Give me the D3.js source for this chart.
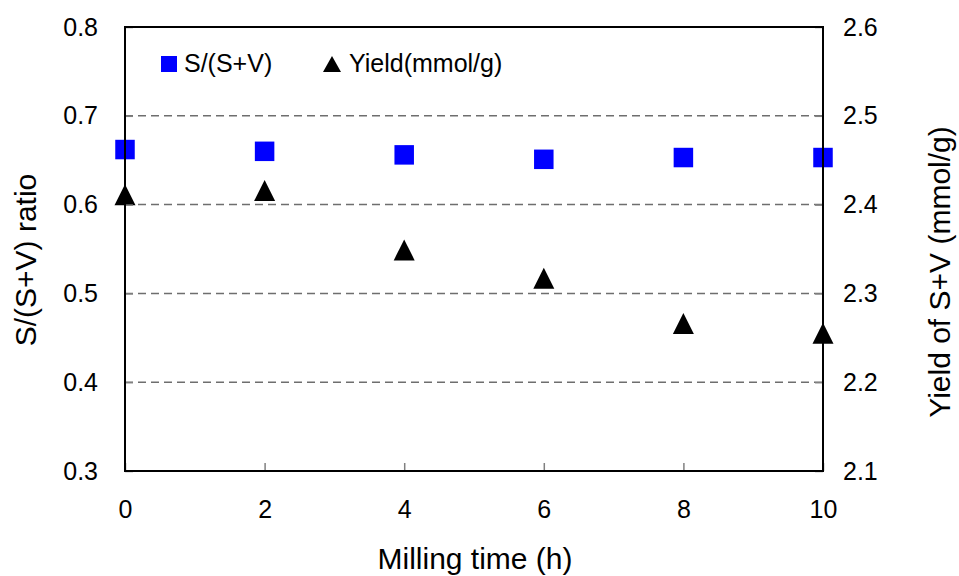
<!DOCTYPE html>
<html>
<head>
<meta charset="utf-8">
<script src="https://cdn.jsdelivr.net/npm/d3@7"></script>
<style>
  body { margin: 0; background: #fff; }
  svg { font-family: "Liberation Sans", Arial, sans-serif; }
</style>
</head>
<body>
<svg id="chart" width="959" height="576"></svg>
<script>
// data
var millingTime = [0, 2, 4, 6, 8, 10];
var ratioValues = [0.662, 0.660, 0.656, 0.651, 0.653, 0.653];
var yieldValues = [2.411, 2.416, 2.349, 2.317, 2.266, 2.255];
var xTicks = [0, 2, 4, 6, 8, 10];
var leftTicks = [0.3, 0.4, 0.5, 0.6, 0.7, 0.8];
var rightTicks = [2.1, 2.2, 2.3, 2.4, 2.5, 2.6];
var seriesNames = ["S/(S+V)", "Yield(mmol/g)"];

var svg = d3.select("#chart"),
    margin = {top: 27, right: 136, bottom: 105, left: 125},
    width = +svg.attr("width") - margin.left - margin.right,
    height = +svg.attr("height") - margin.top - margin.bottom;

var x = d3.scaleLinear().domain([0, 10]).range([margin.left, margin.left + width]);
var yL = d3.scaleLinear().domain([0.3, 0.8]).range([margin.top + height, margin.top]);
var yR = d3.scaleLinear().domain([2.1, 2.6]).range([margin.top + height, margin.top]);

// dashed grid
svg.append("g")
    .selectAll("line")
    .data([0.4, 0.5, 0.6, 0.7])
    .enter().append("line")
    .attr("x1", x(0)).attr("x2", x(10))
    .attr("y1", function(d) { return yL(d); })
    .attr("y2", function(d) { return yL(d); })
    .attr("stroke", "#6e6e6e")
    .attr("stroke-width", 1.5)
    .attr("stroke-dasharray", "8,5");

// markers
var sq = 19.5, tw = 21, th = 21;
svg.append("g")
    .selectAll("rect")
    .data(millingTime)
    .enter().append("rect")
    .attr("x", function(d) { return x(d) - sq / 2; })
    .attr("y", function(d, i) { return yL(ratioValues[i]) - sq / 2; })
    .attr("width", sq).attr("height", sq)
    .attr("fill", "#0000ff");

function tri(cx, cy, w, h) {
    return "M" + cx + "," + (cy - h / 2) + "L" + (cx + w / 2) + "," + (cy + h / 2) +
        "L" + (cx - w / 2) + "," + (cy + h / 2) + "Z";
}
svg.append("g")
    .selectAll("path")
    .data(millingTime)
    .enter().append("path")
    .attr("d", function(d, i) { return tri(x(d), yR(yieldValues[i]), tw, th); })
    .attr("fill", "#000");

// axes
var gx = svg.append("g")
    .attr("transform", "translate(0," + (margin.top + height) + ")")
    .call(d3.axisBottom(x).tickValues(xTicks).tickSizeInner(-8).tickSizeOuter(0).tickPadding(29));
var gl = svg.append("g")
    .attr("transform", "translate(" + margin.left + ",0)")
    .call(d3.axisLeft(yL).tickValues(leftTicks).tickFormat(d3.format(".1f")).tickSizeInner(-8).tickSizeOuter(0).tickPadding(27));
var gr = svg.append("g")
    .attr("transform", "translate(" + (margin.left + width) + ",0)")
    .call(d3.axisRight(yR).tickValues(rightTicks).tickFormat(d3.format(".1f")).tickSizeInner(-8).tickSizeOuter(0).tickPadding(20));

[gx, gl, gr].forEach(function(g) {
    g.select(".domain").remove();
    g.selectAll(".tick line").attr("stroke", "#808080").attr("stroke-width", 1.5);
    g.selectAll(".tick text").attr("font-size", 25).attr("fill", "#000")
        .attr("font-family", "Liberation Sans, Arial, sans-serif");
});

// frame
svg.append("rect")
    .attr("x", margin.left).attr("y", margin.top)
    .attr("width", width).attr("height", height)
    .attr("fill", "none")
    .attr("stroke", "#000")
    .attr("stroke-width", 2);

// titles
svg.append("text")
    .attr("x", 475).attr("y", 569)
    .attr("text-anchor", "middle")
    .attr("font-size", 30)
    .text("Milling time (h)");

svg.append("text")
    .attr("transform", "translate(36,260) rotate(-90)")
    .attr("text-anchor", "middle")
    .attr("font-size", 30)
    .text("S/(S+V) ratio");

svg.append("text")
    .attr("transform", "translate(950,272) rotate(-90)")
    .attr("text-anchor", "middle")
    .attr("font-size", 30)
    .text("Yield of S+V (mmol/g)");

// legend
var lg = svg.append("g");
lg.append("rect")
    .attr("x", 161).attr("y", 56).attr("width", 16).attr("height", 16)
    .attr("fill", "#0000ff");
lg.append("text")
    .attr("x", 184).attr("y", 72)
    .attr("font-size", 25)
    .text(seriesNames[0]);
lg.append("path")
    .attr("d", tri(332, 64, 18, 16))
    .attr("fill", "#000");
lg.append("text")
    .attr("x", 349).attr("y", 72)
    .attr("font-size", 25)
    .text(seriesNames[1]);
</script>
</body>
</html>
